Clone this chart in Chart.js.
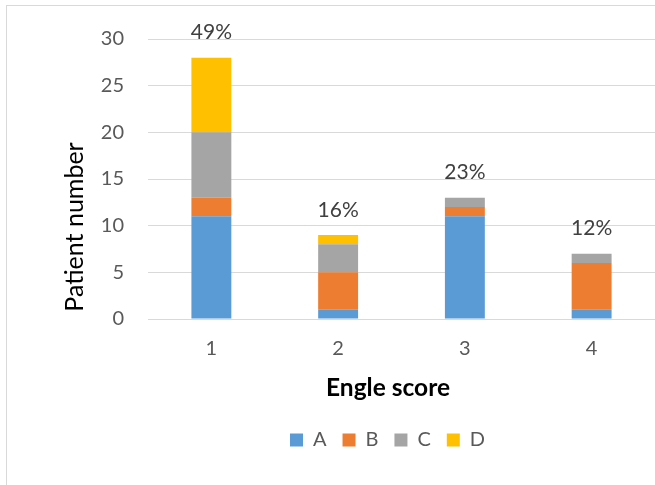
<!DOCTYPE html>
<html>
<head>
<meta charset="utf-8">
<script src="https://cdn.jsdelivr.net/npm/chart.js@4.4.1/dist/chart.umd.min.js"></script>
<style>
  html, body { margin: 0; padding: 0; background: #ffffff; overflow: hidden; }
  #wrap { position: relative; width: 655px; height: 485px; }
</style>
</head>
<body>
<div id="wrap"><canvas id="chart" width="655" height="485"></canvas></div>
<script>
// Engle outcome classes per score
const categories = ['1', '2', '3', '4'];
const seriesA = [11, 1, 11, 1];
const seriesB = [2, 4, 1, 5];
const seriesC = [7, 3, 1, 1];
const seriesD = [8, 1, 0, 0];
const seriesNames = ['A', 'B', 'C', 'D'];
const seriesColors = ['#5B9BD5', '#ED7D31', '#A5A5A5', '#FFC000'];
const yTicks = [0, 5, 10, 15, 20, 25, 30];
const xTitle = 'Engle score';
const yTitle = 'Patient number';

const FONT = 'Lato, "Open Sans", "Liberation Sans", sans-serif';
const allSeries = [seriesA, seriesB, seriesC, seriesD];

// Stack totals and their share of all patients
const totals = categories.map((_, i) => allSeries.reduce((s, arr) => s + arr[i], 0));
const grand = totals.reduce((s, v) => s + v, 0);
const shareLabels = totals.map(t => Math.round(t / grand * 100) + '%');

// Light outer frame of the chart
const frame = {
  id: 'frame',
  beforeDraw(chart) {
    const ctx = chart.ctx;
    ctx.save();
    ctx.fillStyle = '#ffffff';
    ctx.fillRect(0, 0, chart.width, chart.height);
    ctx.strokeStyle = '#d9d9d9';
    ctx.lineWidth = 1;
    ctx.strokeRect(6.5, 5.5, 800, 600);
    ctx.restore();
  }
};

// Legend sits a little left of the plot centre
const legendShift = {
  id: 'legendShift',
  afterLayout(chart) {
    const lg = chart.legend;
    if (lg) { lg.left -= 14; lg.right -= 14; }
  }
};

// Share percentages above each stack, plus both axis titles
const annotations = {
  id: 'annotations',
  afterDatasetsDraw(chart) {
    const ctx = chart.ctx;
    const xs = chart.scales.x, ys = chart.scales.y;
    ctx.save();
    ctx.font = '21px ' + FONT;
    ctx.fillStyle = '#404040';
    ctx.textAlign = 'center';
    ctx.textBaseline = 'middle';
    totals.forEach((t, i) => {
      ctx.fillText(shareLabels[i], xs.getPixelForValue(i), ys.getPixelForValue(t) - 25);
    });

    ctx.fillStyle = '#000000';
    ctx.textBaseline = 'alphabetic';
    ctx.font = 'bold 24.5px ' + FONT;
    ctx.fillText(xTitle, 388, 396);

    ctx.font = '25px ' + FONT;
    ctx.translate(83, 227);
    ctx.rotate(-Math.PI / 2);
    ctx.fillText(yTitle, 0, 0);
    ctx.restore();
  }
};

new Chart(document.getElementById('chart'), {
  type: 'bar',
  data: {
    labels: categories,
    datasets: allSeries.map((arr, k) => ({
      label: seriesNames[k],
      data: arr,
      backgroundColor: seriesColors[k],
      borderWidth: 0,
      categoryPercentage: 1,
      barPercentage: 0.315
    }))
  },
  options: {
    responsive: false,
    animation: false,
    layout: { padding: { top: 39, left: 0, right: 0, bottom: 25 } },
    plugins: {
      tooltip: { enabled: false },
      legend: {
        position: 'bottom',
        fullSize: false,
        labels: {
          boxWidth: 13, boxHeight: 13, padding: 16,
          color: '#595959',
          font: { family: FONT, size: 20 }
        }
      }
    },
    scales: {
      x: {
        stacked: true,
        grid: { display: false, drawTicks: false },
        border: { display: false },
        ticks: { color: '#595959', font: { family: FONT, size: 20 }, padding: 18 },
        afterFit(s) { s.height = 95; }
      },
      y: {
        stacked: true,
        min: 0, max: 30,
        afterBuildTicks(s) { s.ticks = yTicks.map(v => ({ value: v })); },
        grid: { color: '#d9d9d9', lineWidth: 1, drawTicks: false },
        border: { display: false },
        ticks: { color: '#595959', font: { family: FONT, size: 20 }, padding: 24 },
        afterFit(s) { s.width = 148; }
      }
    }
  },
  plugins: [frame, legendShift, annotations]
});
</script>
</body>
</html>
